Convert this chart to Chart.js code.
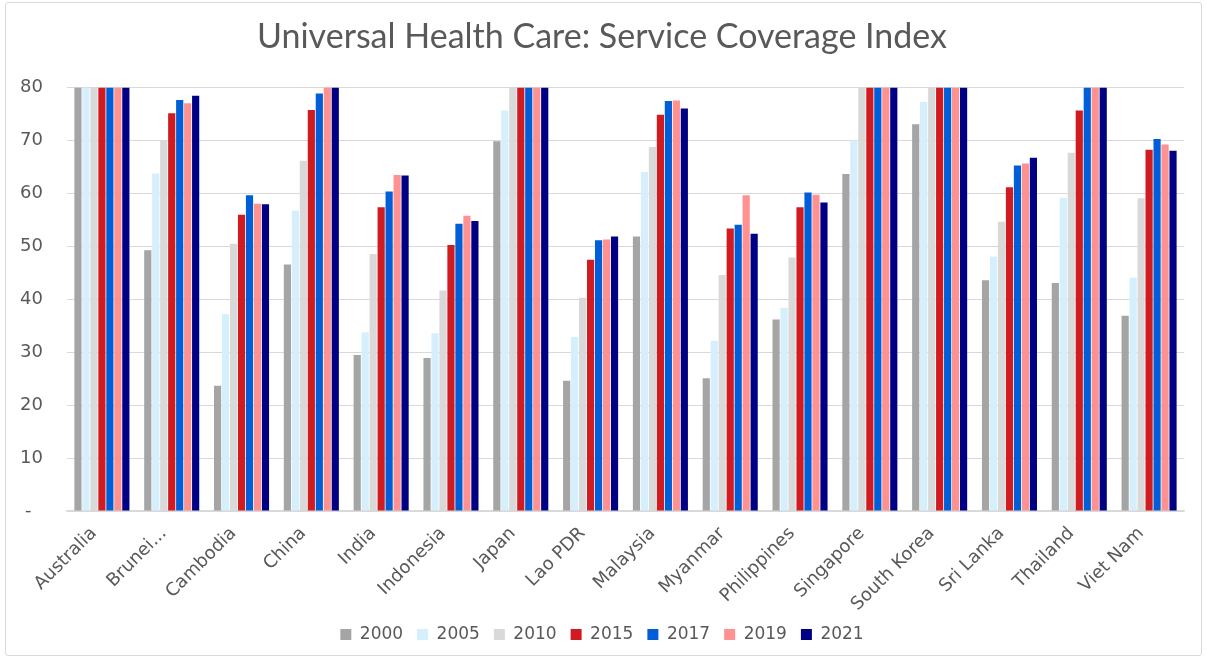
<!DOCTYPE html>
<html>
<head>
<meta charset="utf-8">
<script src="https://cdn.jsdelivr.net/npm/chart.js@4"></script>
<style>
  html, body { margin: 0; padding: 0; background: #fff; }
  #wrap { position: relative; width: 1207px; height: 659px; }
  #frame {
    position: absolute; left: 5px; top: 2px; width: 1195px; height: 652px;
    border: 1px solid #d9d9d9; border-radius: 3px; pointer-events: none;
  }
</style>
</head>
<body>
<div id="wrap">
  <canvas id="chart-uhc" width="1207" height="659"></canvas>
  <div id="frame"></div>
</div>
<script>
// 国・地域
const countries = ['Australia', 'Brunei...', 'Cambodia', 'China', 'India', 'Indonesia', 'Japan', 'Lao PDR',
  'Malaysia', 'Myanmar', 'Philippines', 'Singapore', 'South Korea', 'Sri Lanka', 'Thailand', 'Viet Nam'];

// 年ごとのサービスカバレッジ指数
const y2000 = [82, 49.3, 23.7, 46.6, 29.5, 28.9, 69.9, 24.6, 51.9, 25.1, 36.2, 63.7, 73.1, 43.6, 43.1, 36.9];
const y2005 = [84, 63.8, 37.2, 56.8, 33.8, 33.6, 75.7, 32.9, 64.1, 32.2, 38.4, 70.1, 77.3, 48.1, 59.2, 44.1];
const y2010 = [85, 70.0, 50.5, 66.2, 48.6, 41.7, 81, 40.3, 68.8, 44.6, 47.9, 81, 82, 54.7, 67.7, 59.1];
const y2015 = [86, 75.2, 56.0, 75.8, 57.4, 50.3, 83, 47.5, 74.9, 53.4, 57.4, 86, 86, 61.2, 75.7, 68.3];
const y2017 = [87, 77.7, 59.7, 78.9, 60.4, 54.3, 84, 51.2, 77.5, 54.1, 60.2, 87, 87, 65.3, 80.5, 70.3];
const y2019 = [87, 77.1, 58.1, 81, 63.5, 55.8, 85, 51.3, 77.6, 59.7, 59.8, 88, 88, 65.7, 82, 69.3];
const y2021 = [87, 78.5, 58.0, 81, 63.4, 54.8, 85, 51.9, 76.1, 52.4, 58.3, 89, 89, 66.8, 82, 68.1];

const years = ['2000', '2005', '2010', '2015', '2017', '2019', '2021'];
const colors = ['#a5a5a5', '#d5effc', '#d9d9d9', '#d01b21', '#005ed8', '#ff9191', '#000084'];
const yTicks = [0, 10, 20, 30, 40, 50, 60, 70, 80];

const textColor = '#595959';
const gridColor = '#d9d9d9';

function drawCoverage(graphID) {
    var series = [y2000, y2005, y2010, y2015, y2017, y2019, y2021];

    var data = {
        labels: countries,
        datasets: series.map(function (values, i) {
            return {
                label: years[i],
                data: values,
                backgroundColor: colors[i],
                borderWidth: 0,
                clip: 0, // 80を超える棒はプロット領域で切る
            };
        })
    };

    var options = {
        responsive: false,
        animation: false,
        layout: {
            padding: { left: 20, right: 23, top: 0, bottom: 6 }
        },
        scales: {
            x: {
                grid: { display: false, drawTicks: false },
                border: { display: true, color: gridColor, width: 1.5 },
                categoryPercentage: 0.82,
                barPercentage: 1.0,
                ticks: {
                    color: textColor,
                    font: { family: 'DejaVu Sans', size: 18 },
                    maxRotation: 45,
                    minRotation: 45,
                    padding: 12,
                    labelOffset: -8,
                    autoSkip: false,
                },
                // 斜めラベルのはみ出し分で左端をずらさない
                afterFit: function (scale) {
                    scale.paddingLeft = 0;
                    scale.paddingRight = 0;
                    scale.height = 101;
                }
            },
            y: {
                min: 0,
                max: 80,
                grid: { color: gridColor, lineWidth: 1, drawTicks: false },
                border: { display: false },
                afterBuildTicks: function (scale) {
                    scale.ticks = yTicks.map(function (v) { return { value: v }; });
                },
                afterFit: function (scale) {
                    scale.width = 47;
                },
                ticks: {
                    color: textColor,
                    font: { family: 'DejaVu Sans', size: 18 },
                    padding: 24,
                    callback: function (value) {
                        return value === 0 ? '-\u2007' : value;
                    }
                }
            }
        },
        plugins: {
            title: {
                display: true,
                text: 'Universal Health Care: Service Coverage Index',
                color: textColor,
                font: { family: 'Lato', size: 34, weight: 'normal' },
                padding: { top: 17, bottom: 30 }
            },
            legend: {
                position: 'bottom',
                labels: {
                    color: textColor,
                    font: { family: 'DejaVu Sans', size: 17 },
                    boxWidth: 11,
                    boxHeight: 11,
                    padding: 14,
                }
            },
            tooltip: { enabled: true }
        }
    };

    var ctx = document.getElementById('chart-' + graphID).getContext('2d');
    return new Chart(ctx, { type: 'bar', data: data, options: options });
}

drawCoverage('uhc');
</script>
</body>
</html>
